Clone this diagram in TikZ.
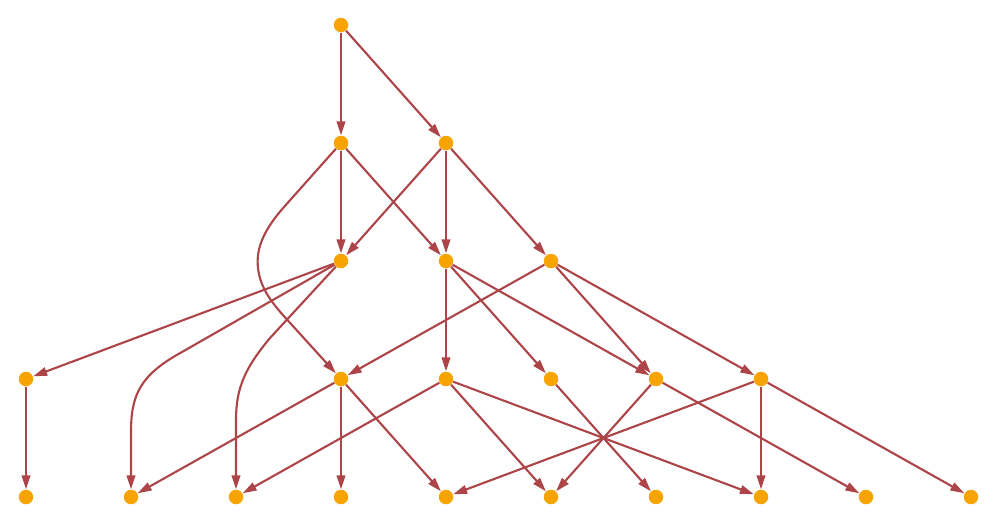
\documentclass[tikz,border=0pt]{standalone}
\usetikzlibrary{arrows.meta}
\definecolor{vertexfill}{RGB}{247,164,0}
\definecolor{edgeline}{RGB}{172,68,72}

\begin{document}
\begin{tikzpicture}
    [x=0.02cm, y=-0.02cm,
    vertex/.style={circle, fill=vertexfill, inner sep=0pt, minimum size=0.29cm},
    arrow/.style={draw=edgeline, line width=1.2pt, -{Triangle[length=0.28cm, width=0.17cm]}}]
    \useasboundingbox (0,0) rectangle (1000,525);
    % level 0 and 1
    \node [vertex] (a1) at (341,25) {};
    \node [vertex] (b1) at (341,143) {};
    \node [vertex] (b2) at (446,143) {};
    % level 2
    \node [vertex] (c1) at (341,261) {};
    \node [vertex] (c2) at (446,261) {};
    \node [vertex] (c3) at (551,261) {};
    % level 3
    \node [vertex] (d1) at (26,379) {};
    \node [vertex] (d2) at (341,379) {};
    \node [vertex] (d3) at (446,379) {};
    \node [vertex] (d4) at (551,379) {};
    \node [vertex] (d5) at (656,379) {};
    \node [vertex] (d6) at (761,379) {};
    % level 4
    \node [vertex] (e1) at (26,497) {};
    \node [vertex] (e2) at (131,497) {};
    \node [vertex] (e3) at (236,497) {};
    \node [vertex] (e4) at (341,497) {};
    \node [vertex] (e5) at (446,497) {};
    \node [vertex] (e6) at (551,497) {};
    \node [vertex] (e7) at (656,497) {};
    \node [vertex] (e8) at (761,497) {};
    \node [vertex] (e9) at (866,497) {};
    \node [vertex] (e10) at (971,497) {};

    \draw [arrow] (a1) -- (b1);
    \draw [arrow] (a1) -- (b2);
    \draw [arrow] (b1) -- (c1);
    \draw [arrow] (b1) -- (c2);
    \draw [arrow] (b1) -- (284,207) .. controls (262,232) and (256,250) .. (258,268)
      .. controls (260,285) and (268,298) .. (282,314) -- (d2);
    \draw [arrow] (b2) -- (c1);
    \draw [arrow] (b2) -- (c2);
    \draw [arrow] (b2) -- (c3);
    \draw [arrow] (c1) -- (d1);
    \draw [arrow] (c1) -- (182,352) .. controls (140,375) and (131,395) .. (131,432) -- (e2);
    \draw [arrow] (c1) -- (270,338) .. controls (245,368) and (236,388) .. (236,420) -- (e3);
    \draw [arrow] (c2) -- (d3);
    \draw [arrow] (c2) -- (d4);
    \draw [arrow] (c2) -- (d5);
    \draw [arrow] (c3) -- (d2);
    \draw [arrow] (c3) -- (d5);
    \draw [arrow] (c3) -- (d6);
    \draw [arrow] (d1) -- (e1);
    \draw [arrow] (d2) -- (e2);
    \draw [arrow] (d2) -- (e4);
    \draw [arrow] (d2) -- (e5);
    \draw [arrow] (d3) -- (e3);
    \draw [arrow] (d3) -- (e6);
    \draw [arrow] (d3) -- (e8);
    \draw [arrow] (d4) -- (e7);
    \draw [arrow] (d5) -- (e6);
    \draw [arrow] (d5) -- (e9);
    \draw [arrow] (d6) -- (e5);
    \draw [arrow] (d6) -- (e8);
    \draw [arrow] (d6) -- (e10);
\end{tikzpicture}
\end{document}
